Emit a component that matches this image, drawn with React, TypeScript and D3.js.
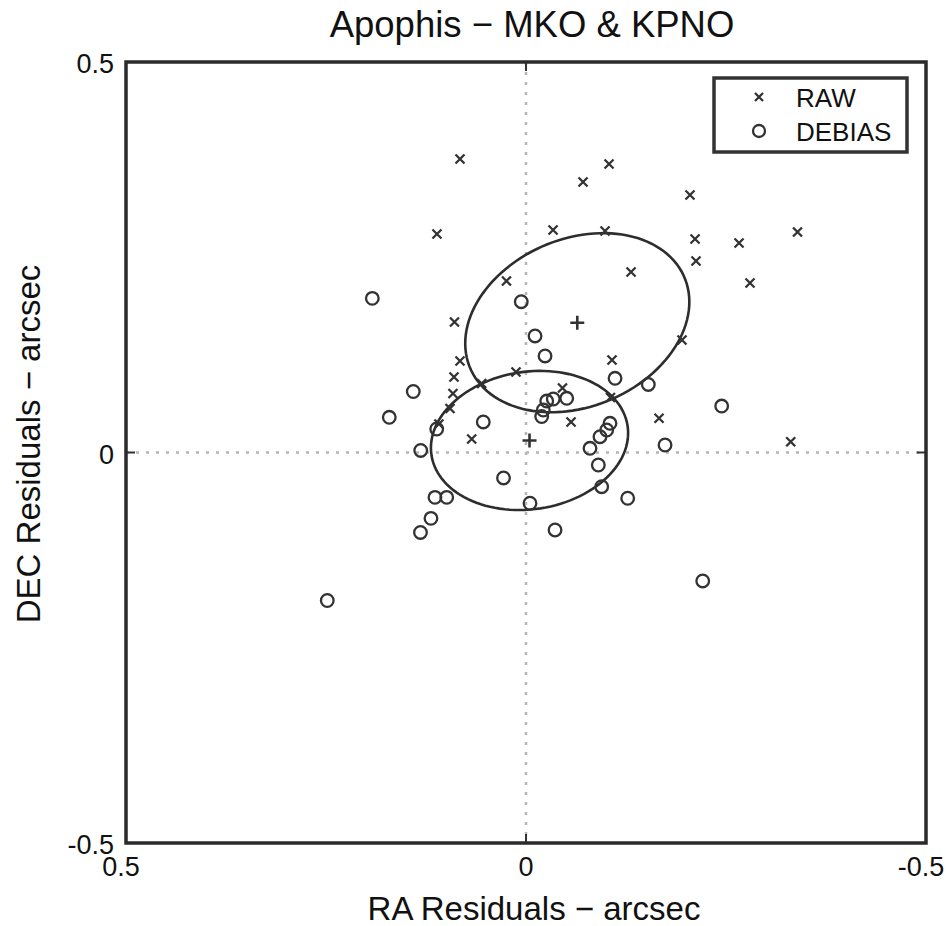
import React from "react";
import * as d3 from "d3";

// ---- data (arcsec) ----
const rawRA = [0.0825, -0.1038, -0.0713, -0.205, 0.1113, -0.0338, -0.0988, -0.2113, -0.2663, -0.3394, -0.2125, -0.1313, -0.28, 0.0244, 0.0894, -0.195, -0.1075, 0.0825, 0.09, 0.0913, 0.095, 0.0554, 0.0125, -0.0456, -0.0563, -0.1663, 0.0679, -0.3309, -0.1056, 0.1088];
const rawDEC = [0.3758, 0.3694, 0.3464, 0.3297, 0.2798, 0.2849, 0.2836, 0.2734, 0.2683, 0.2823, 0.2452, 0.2311, 0.217, 0.2196, 0.1671, 0.144, 0.1184, 0.1172, 0.0967, 0.0755, 0.0563, 0.0883, 0.1031, 0.0826, 0.0391, 0.0438, 0.0173, 0.0138, 0.0704, 0.0365];

const debRA = [0.1921, 0.0059, -0.0113, -0.0238, 0.1409, 0.1709, 0.0534, 0.1116, 0.1316, 0.0281, 0.1138, 0.0991, 0.1188, 0.1319, 0.2484, -0.005, -0.0363, -0.1113, -0.1529, -0.2446, -0.1738, -0.0509, -0.0341, -0.0259, -0.0216, -0.0196, -0.105, -0.1009, -0.0925, -0.08, -0.0904, -0.0946, -0.1271, -0.2209];
const debDEC = [0.1974, 0.1931, 0.1492, 0.1236, 0.0781, 0.0451, 0.0391, 0.0301, 0.0026, -0.0326, -0.0574, -0.0574, -0.0843, -0.1024, -0.1895, -0.065, -0.0992, 0.095, 0.0871, 0.0595, 0.0096, 0.0694, 0.0685, 0.0659, 0.0544, 0.0461, 0.0374, 0.0288, 0.0202, 0.0054, -0.016, -0.0438, -0.0586, -0.1645];

// means: [RA, DEC]
const meanRaw = [-0.0641, 0.1662];
const meanDeb = [-0.0044, 0.0154];
// ellipse: [semi-major, semi-minor, angle of major axis from +RA toward +DEC, degrees]
const ellRaw = [0.146, 0.107, 155.5];
const ellDeb = [0.124, 0.088, 171];

const xTicks = [0.5, 0, -0.5];
const yTicks = [0.5, 0, -0.5];
const xTickLabels = ["0.5", "0", "-0.5"];
const yTickLabels = ["0.5", "0", "-0.5"];
const legendLabels = ["RAW", "DEBIAS"];

const W = 946, H = 926;
const L = 126, R = 926, T = 62, B = 843;
const FONT = "'Liberation Sans', Arial, Helvetica, sans-serif";
const INK = "#333";

export default function App() {
  const x = d3.scaleLinear().domain([0.5, -0.5]).range([L, R]);
  const y = d3.scaleLinear().domain([-0.5, 0.5]).range([B, T]);

  const ellipsePath = (c: number[], e: number[]) => {
    const [a, b, ang] = e;
    const phi = (ang * Math.PI) / 180;
    const pts: [number, number][] = d3.range(0, 361, 3).map((deg) => {
      const t = (deg * Math.PI) / 180;
      const ra = c[0] + a * Math.cos(phi) * Math.cos(t) - b * Math.sin(phi) * Math.sin(t);
      const de = c[1] + a * Math.sin(phi) * Math.cos(t) + b * Math.cos(phi) * Math.sin(t);
      return [x(ra), y(de)];
    });
    return d3.line().curve(d3.curveLinearClosed)(pts) || "";
  };

  const xMark = (cx: number, cy: number, s: number, key: string) => (
    <path key={key} d={`M${cx - s},${cy - s}L${cx + s},${cy + s}M${cx - s},${cy + s}L${cx + s},${cy - s}`} stroke={INK} strokeWidth={2.3} fill="none" />
  );
  const plus = (cx: number, cy: number, s: number) => (
    <path d={`M${cx - s},${cy}L${cx + s},${cy}M${cx},${cy - s}L${cx},${cy + s}`} stroke={INK} strokeWidth={2.6} fill="none" />
  );

  return (
    <svg width={W} height={H} style={{ position: "absolute", left: 0, top: 0, background: "#fff" }} fontFamily={FONT}>
      <rect x={0} y={0} width={W} height={H} fill="#fff" />
      {/* dotted zero lines */}
      <line x1={x(0)} x2={x(0)} y1={T} y2={B} stroke="#b5b5b5" strokeWidth={2.5} strokeDasharray="3 7" />
      <line x1={L} x2={R} y1={y(0)} y2={y(0)} stroke="#b5b5b5" strokeWidth={2.5} strokeDasharray="3 7" />

      {/* ellipses */}
      <path d={ellipsePath(meanRaw, ellRaw)} fill="none" stroke="#2d2d2d" strokeWidth={2.6} />
      <path d={ellipsePath(meanDeb, ellDeb)} fill="none" stroke="#2d2d2d" strokeWidth={2.6} />

      {/* raw points */}
      {rawRA.map((r, i) => xMark(x(r), y(rawDEC[i]), 4.5, "r" + i))}
      {/* debiased points */}
      {debRA.map((r, i) => (
        <circle key={"d" + i} cx={x(r)} cy={y(debDEC[i])} r={6.3} fill="none" stroke={INK} strokeWidth={2.3} />
      ))}
      {/* means */}
      {plus(x(meanRaw[0]), y(meanRaw[1]), 7)}
      {plus(x(meanDeb[0]), y(meanDeb[1]), 7)}

      {/* ticks */}
      {xTicks.map((t, i) => (
        <g key={"xt" + i}>
          <line x1={x(t)} x2={x(t)} y1={B} y2={B - 9} stroke={INK} strokeWidth={2} />
          <line x1={x(t)} x2={x(t)} y1={T} y2={T + 9} stroke={INK} strokeWidth={2} />
          <text x={x(t) + (t === 0 ? 0 : -5)} y={876} textAnchor="middle" fontSize={27} fill="#111">{xTickLabels[i]}</text>
        </g>
      ))}
      {yTicks.map((t, i) => (
        <g key={"yt" + i}>
          <line x1={L} x2={L + 9} y1={y(t)} y2={y(t)} stroke={INK} strokeWidth={2} />
          <line x1={R} x2={R - 9} y1={y(t)} y2={y(t)} stroke={INK} strokeWidth={2} />
          <text x={114} y={y(t) + 2} textAnchor="end" dominantBaseline="central" fontSize={27} fill="#111">{yTickLabels[i]}</text>
        </g>
      ))}

      {/* frame */}
      <rect x={L} y={T} width={R - L} height={B - T} fill="none" stroke="#2a2a2a" strokeWidth={3.5} />

      {/* legend */}
      <rect x={714} y={78} width={193} height={74} fill="#fff" stroke="#333" strokeWidth={3.5} />
      {xMark(759, 97, 4, "lg1")}
      <circle cx={759} cy={131} r={6} fill="none" stroke={INK} strokeWidth={2.3} />
      <text x={796} y={107} fontSize={26} fill="#111">{legendLabels[0]}</text>
      <text x={796} y={141} fontSize={26} fill="#111">{legendLabels[1]}</text>

      {/* titles */}
      <text x={532} y={37} textAnchor="middle" fontSize={36.5} fill="#111">Apophis − MKO &amp; KPNO</text>
      <text x={534} y={920} textAnchor="middle" fontSize={33} fill="#111">RA Residuals − arcsec</text>
      <text transform="translate(40,444) rotate(-90)" textAnchor="middle" fontSize={33} fill="#111">DEC Residuals − arcsec</text>
    </svg>
  );
}
